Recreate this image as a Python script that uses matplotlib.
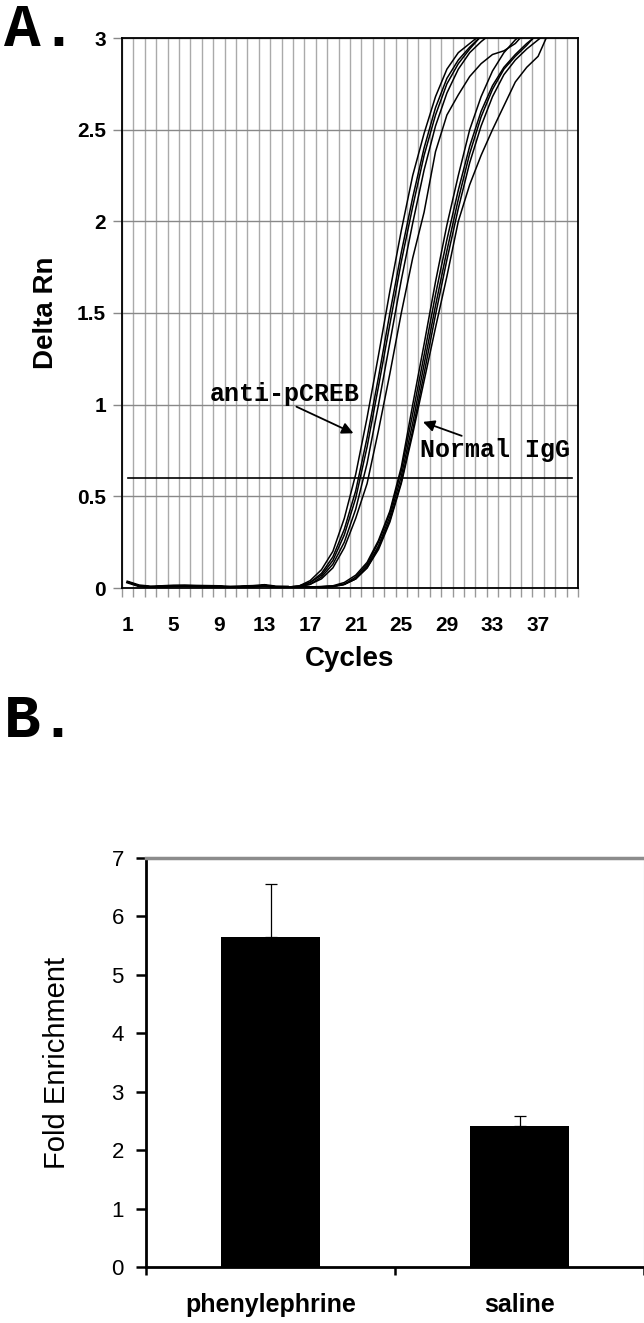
import numpy as np
import matplotlib
matplotlib.use("Agg")
import matplotlib.pyplot as plt

plt.rcParams['font.family'] = ['Liberation Sans', 'DejaVu Sans']

# ---------------- panel A: real-time PCR amplification plot ----------------
# Delta Rn for cycles 1..15 (flat part, shared by all wells)
baseline = [0.032, 0.012, 0.006, 0.008, 0.011, 0.012, 0.010, 0.009,
            0.008, 0.005, 0.007, 0.009, 0.014, 0.006, 0.005]

# anti-pCREB wells, Delta Rn from cycle 16 on
anti_pcreb = [
    [0.010, 0.04, 0.10, 0.20, 0.38, 0.62, 0.93, 1.27, 1.62, 1.95, 2.25, 2.48,
     2.68, 2.83, 2.92, 2.97, 3.02],
    [0.010, 0.03, 0.08, 0.17, 0.32, 0.53, 0.82, 1.15, 1.50, 1.83, 2.13, 2.40,
     2.62, 2.78, 2.88, 2.95, 3.01],
    [0.010, 0.03, 0.07, 0.15, 0.29, 0.49, 0.77, 1.10, 1.44, 1.78, 2.08, 2.36,
     2.58, 2.75, 2.86, 2.94, 3.01],
    [0.008, 0.02, 0.06, 0.13, 0.25, 0.43, 0.68, 1.00, 1.34, 1.68, 1.99, 2.28,
     2.52, 2.70, 2.83, 2.92, 2.98, 3.03],
    [0.008, 0.02, 0.05, 0.11, 0.22, 0.38, 0.57, 0.86, 1.17, 1.50, 1.80, 2.05,
     2.38, 2.58, 2.69, 2.79, 2.86, 2.91, 2.93, 2.97, 3.04],
]

# normal IgG wells, Delta Rn from cycle 16 on
normal_igg = [
    [0.005, 0.006, 0.008, 0.012, 0.03, 0.07, 0.14, 0.26, 0.42, 0.66, 1.00,
     1.33, 1.67, 1.98, 2.25, 2.50, 2.68, 2.82, 2.92, 2.99, 3.04],
    [0.004, 0.005, 0.007, 0.010, 0.02, 0.06, 0.13, 0.25, 0.41, 0.64, 0.95,
     1.27, 1.60, 1.90, 2.17, 2.41, 2.60, 2.74, 2.84, 2.91, 2.97, 3.02],
    [0.004, 0.005, 0.006, 0.009, 0.02, 0.05, 0.12, 0.23, 0.39, 0.61, 0.90,
     1.22, 1.54, 1.84, 2.12, 2.37, 2.57, 2.72, 2.83, 2.90, 2.96, 3.03],
    [0.005, 0.006, 0.007, 0.009, 0.02, 0.05, 0.11, 0.22, 0.37, 0.58, 0.86,
     1.17, 1.49, 1.79, 2.07, 2.32, 2.52, 2.68, 2.80, 2.88, 2.94, 2.99, 3.04],
    [0.004, 0.005, 0.006, 0.008, 0.02, 0.05, 0.11, 0.21, 0.36, 0.57, 0.84,
     1.13, 1.42, 1.70, 2.00, 2.20, 2.36, 2.50, 2.63, 2.76, 2.84, 2.90, 3.04],
]

n_cycles = 40
threshold = 0.6
cycle_labels = list(range(1, 38, 4))
delta_rn_ticks = [0, 0.5, 1, 1.5, 2, 2.5, 3]
delta_rn_labels = ['0', '0.5', '1', '1.5', '2', '2.5', '3']

# ---------------- panel B: ChIP fold enrichment ----------------
conditions = ['phenylephrine', 'saline']
fold_enrichment = [5.65, 2.42]
fold_err = [0.90, 0.16]

fig = plt.figure(figsize=(6.44, 13.23), dpi=100)
W, H = 644.0, 1323.0

# ---- A ----
axA = fig.add_axes([122 / W, 1 - 588 / H, 456 / W, 550 / H])
for well in anti_pcreb + normal_igg:
    ys = baseline + well
    axA.plot(range(1, len(ys) + 1), ys, color='black', lw=1.1, zorder=3)
# flat start drawn a bit heavier, where all wells overlap
axA.plot(range(1, len(baseline) + 1), baseline, color='black', lw=2.2, zorder=3)
axA.plot([1, n_cycles], [threshold, threshold], color='black', lw=1.2, zorder=3)

axA.set_xlim(0.5, n_cycles + 0.5)
axA.set_ylim(0, 3)
axA.set_xticks(cycle_labels)
axA.set_xticklabels([str(c) for c in cycle_labels])
axA.set_xticks(np.arange(0.5, n_cycles + 1), minor=True)
axA.set_yticks(delta_rn_ticks)
axA.set_yticklabels(delta_rn_labels)
axA.tick_params(axis='x', which='major', length=0, pad=20)
axA.tick_params(axis='x', which='minor', length=6.5, width=1, color='#999999')
axA.tick_params(axis='y', which='major', length=6.5, width=1, color='#888888', pad=5)
for lab in axA.get_xticklabels() + axA.get_yticklabels():
    lab.set_fontweight('bold')
    lab.set_fontsize(15)
axA.grid(axis='x', which='minor', color='#aaaaaa', lw=1)
axA.grid(axis='y', which='major', color='#888888', lw=1)
axA.set_axisbelow(True)
for s in axA.spines.values():
    s.set_color('black')
    s.set_linewidth(1.3)

axA.set_xlabel('Cycles', fontsize=20, fontweight='bold')
axA.xaxis.set_label_coords(0.5, -0.13)
axA.xaxis.label.set_va('center')
axA.set_ylabel('Delta Rn', fontsize=20, fontweight='bold')
axA.yaxis.set_label_coords(-0.167, 0.5)
axA.yaxis.label.set_va('center')

mono = ['Liberation Mono', 'DejaVu Sans Mono']
axA.text(14.8, 1.022, 'anti-pCREB', family=mono, fontweight='bold', fontsize=18,
         ha='center', va='baseline', zorder=5)
axA.annotate('', xy=(20.8, 0.844), xytext=(15.8, 0.989),
             arrowprops=dict(arrowstyle='-|>', color='black', lw=1.3,
                             mutation_scale=17, shrinkA=0, shrinkB=0), zorder=5)
axA.text(33.2, 0.716, 'Normal IgG', family=mono, fontweight='bold', fontsize=18,
         ha='center', va='baseline', zorder=5)
axA.annotate('', xy=(26.9, 0.906), xytext=(30.3, 0.83),
             arrowprops=dict(arrowstyle='-|>', color='black', lw=1.3,
                             mutation_scale=17, shrinkA=0, shrinkB=0), zorder=5)

fig.text(4 / W, 1 - 46 / H, 'A.', family=mono, fontweight='bold', fontsize=44,
         ha='left', va='baseline')

# ---- B ----
axB = fig.add_axes([146 / W, 1 - 1267 / H, 498 / W, 409 / H])
xpos = np.arange(len(conditions))
axB.bar(xpos, fold_enrichment, width=0.4, color='black', zorder=2)
axB.errorbar(xpos, fold_enrichment, yerr=[np.zeros(len(xpos)), fold_err],
             fmt='none', ecolor='black', elinewidth=0.9, capsize=4, capthick=0.9,
             zorder=3)
axB.set_xlim(-0.5, len(conditions) - 0.5)
axB.set_ylim(0, 7)
axB.set_xticks(xpos)
axB.set_xticklabels(conditions)
axB.set_xticks(np.arange(-0.5, len(conditions)), minor=True)
axB.set_yticks(range(0, 8))
axB.tick_params(axis='x', which='major', length=0, pad=19)
axB.tick_params(axis='x', which='minor', length=6, width=1.8, color='black')
axB.tick_params(axis='y', which='major', length=7, width=1.8, color='black', pad=9,
                labelsize=16)
for lab in axB.get_xticklabels():
    lab.set_fontweight('bold')
    lab.set_fontsize(18)
axB.spines['left'].set_linewidth(2.0)
axB.spines['bottom'].set_linewidth(2.0)
axB.spines['top'].set_color('#8c8c8c')
axB.spines['top'].set_linewidth(2.5)
axB.spines['right'].set_color('#e6e6e6')
axB.spines['right'].set_linewidth(1.0)
axB.set_ylabel('Fold Enrichment', fontsize=21)
axB.yaxis.set_label_coords(-0.179, 0.5)
axB.yaxis.label.set_va('center')

fig.text(4 / W, 1 - 737 / H, 'B.', family=mono, fontweight='bold', fontsize=44,
         ha='left', va='baseline')

fig.savefig('out.png', dpi=100)
